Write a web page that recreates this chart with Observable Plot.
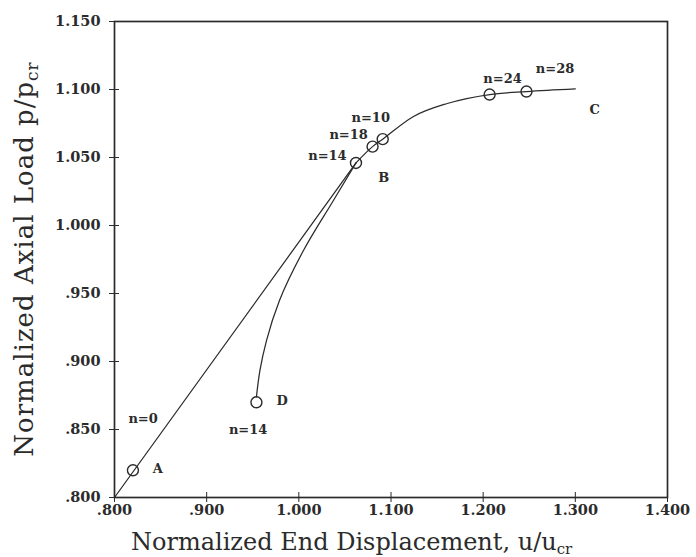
<!DOCTYPE html>
<html>
<head>
<meta charset="utf-8">
<script src="https://cdn.jsdelivr.net/npm/d3@7"></script>
<script src="https://cdn.jsdelivr.net/npm/@observablehq/plot@0.6"></script>
<style>
  body { margin: 0; background: #fff; }
  #chart svg { display: block; }
</style>
</head>
<body>
<div id="chart"></div>
<script>
// Axis ticks
const xTicks = [0.8, 0.9, 1.0, 1.1, 1.2, 1.3, 1.4];
const yTicks = [0.80, 0.85, 0.90, 0.95, 1.00, 1.05, 1.10, 1.15];

// Straight loading path from the origin through A up to B
const pathAB = [
  {u: 0.800, p: 0.800},
  {u: 1.062, p: 1.046}
];

// Post-buckling branch B -> C
const pathBC = [
  {u: 1.062, p: 1.046},
  {u: 1.080, p: 1.058},
  {u: 1.091, p: 1.0635},
  {u: 1.124, p: 1.080},
  {u: 1.161, p: 1.0897},
  {u: 1.207, p: 1.0963},
  {u: 1.247, p: 1.0985},
  {u: 1.300, p: 1.1005}
];

// Unloading branch D -> B
const pathDB = [
  {u: 0.954, p: 0.874},
  {u: 0.9578, p: 0.8934},
  {u: 0.9649, p: 0.9154},
  {u: 0.979, p: 0.9449},
  {u: 1.005, p: 0.9816},
  {u: 1.0375, p: 1.0184},
  {u: 1.062, p: 1.046}
];

// Marked states along the paths
const markedStates = [
  {u: 0.820, p: 0.820},
  {u: 0.954, p: 0.870},
  {u: 1.062, p: 1.046},
  {u: 1.080, p: 1.058},
  {u: 1.091, p: 1.0635},
  {u: 1.207, p: 1.0963},
  {u: 1.247, p: 1.0985}
];

// Cycle-count labels
const cycleLabels = [
  {u: 0.831, p: 0.858, text: "n=0"},
  {u: 0.945, p: 0.850, text: "n=14"},
  {u: 1.031, p: 1.051, text: "n=14"},
  {u: 1.054, p: 1.067, text: "n=18"},
  {u: 1.078, p: 1.079, text: "n=10"},
  {u: 1.221, p: 1.108, text: "n=24"},
  {u: 1.278, p: 1.115, text: "n=28"}
];

// Point letters
const pointLetters = [
  {u: 0.847, p: 0.821, text: "A"},
  {u: 1.092, p: 1.035, text: "B"},
  {u: 1.321, p: 1.085, text: "C"},
  {u: 0.982, p: 0.871, text: "D"}
];

const ink = "#2b2b2b";
const serif = "DejaVu Serif";
const fmt = v => { const s = v.toFixed(3); return v < 1 ? s.slice(1) : s; };

const chart = Plot.plot({
  width: 696,
  height: 557,
  marginLeft: 114,
  marginRight: 29,
  marginTop: 21,
  marginBottom: 60,
  style: {background: "#fff", color: ink},
  x: {domain: [0.8, 1.4], label: null},
  y: {domain: [0.8, 1.15], label: null},
  marks: [
    Plot.frame({stroke: ink, strokeWidth: 1.7}),
    Plot.axisX(xTicks, {tickSize: 5, tickPadding: 2, tickFormat: fmt, stroke: ink, fill: ink,
      fontFamily: serif, fontSize: 14.5, fontWeight: "bold", label: null}),
    Plot.axisX(xTicks, {tickSize: -5, tickFormat: () => "", stroke: ink, label: null}),
    Plot.axisY(yTicks, {tickSize: 5, tickPadding: 9, tickFormat: fmt, stroke: ink, fill: ink,
      fontFamily: serif, fontSize: 14.5, fontWeight: "bold", label: null}),
    Plot.axisY(yTicks, {tickSize: -5, tickFormat: () => "", stroke: ink, label: null}),
    Plot.line(pathAB, {x: "u", y: "p", stroke: ink, strokeWidth: 1.25}),
    Plot.line(pathBC, {x: "u", y: "p", stroke: ink, strokeWidth: 1.25, curve: "monotone-x"}),
    Plot.line(pathDB, {x: "u", y: "p", stroke: ink, strokeWidth: 1.25, curve: "monotone-y"}),
    Plot.dot(markedStates, {x: "u", y: "p", r: 5.5, stroke: ink, strokeWidth: 1.4, fill: "none"}),
    Plot.text(cycleLabels, {x: "u", y: "p", text: "text", fill: ink, fontFamily: serif,
      fontSize: 13, fontWeight: "bold"}),
    Plot.text(pointLetters, {x: "u", y: "p", text: "text", fill: ink, fontFamily: serif,
      fontSize: 13, fontWeight: "bold"})
  ]
});

document.getElementById("chart").append(chart);

// Axis titles with subscripts
const svg = d3.select(chart);
const xr = chart.scale("x").range;
const yr = chart.scale("y").range;

const xt = svg.append("text")
  .attr("x", xr[0] + 17)
  .attr("y", 550)
  .attr("text-anchor", "start")
  .attr("font-family", serif)
  .attr("font-size", 24)
  .attr("fill", ink);
xt.append("tspan").text("Normalized End Displacement, u/u");
xt.append("tspan").attr("font-size", 15).attr("dy", 4).text("cr");

const yt = svg.append("text")
  .attr("transform", `translate(33,${(yr[0] + yr[1]) / 2}) rotate(-90)`)
  .attr("text-anchor", "middle")
  .attr("font-family", serif)
  .attr("font-size", 26)
  .attr("letter-spacing", 1)
  .attr("fill", ink);
yt.append("tspan").text("Normalized Axial Load p/p");
yt.append("tspan").attr("font-size", 17).attr("dy", 5).text("cr");
</script>
</body>
</html>
